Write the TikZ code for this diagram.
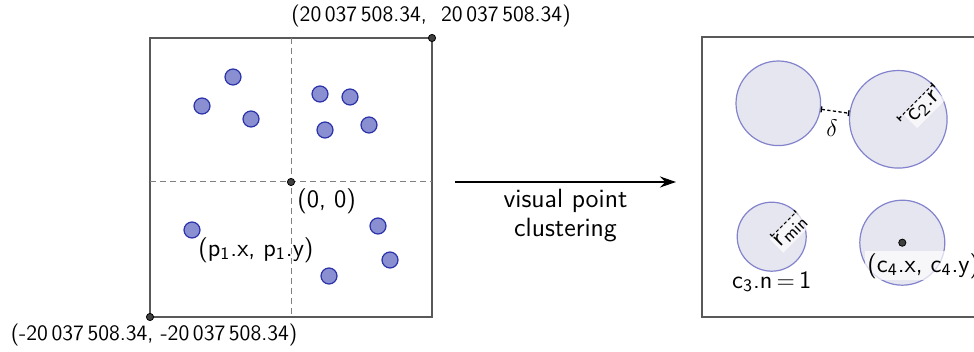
\documentclass[tikz,border=0pt]{standalone}
\usetikzlibrary{arrows.meta,calc}
\definecolor{ptfill}{RGB}{138,143,210}
\definecolor{ptedge}{RGB}{42,50,170}
\definecolor{clfill}{RGB}{230,230,240}
\definecolor{cledge}{RGB}{130,130,205}
\begin{document}
\begin{tikzpicture}[x=0.5pt,y=-0.5pt,font=\sffamily\fontsize{12.5}{14}\selectfont]
\tikzset{
  frame/.style={draw=black!65,line width=0.6pt},
  quad/.style={draw=black!50,line width=0.5pt,dash pattern=on 3pt off 2pt},
  pt/.style={circle,draw=ptedge,fill=ptfill,line width=0.6pt,minimum size=8pt,inner sep=0pt},
  dot/.style={circle,fill=black!75,draw=black,line width=0.4pt,minimum size=3.6pt,inner sep=0pt},
  cluster/.style={circle,draw=cledge,fill=clfill,line width=0.6pt,inner sep=0pt},
  measure/.style={line width=0.65pt,dash pattern=on 1.6pt off 1.2pt,{Bar[width=3pt]}-{Bar[width=3pt]}},
  coordlbl/.style={font=\sffamily\fontsize{11}{13}\selectfont,inner sep=1pt},
  haze/.style={fill=white,fill opacity=0.7,text opacity=1,inner sep=1pt}
}
\useasboundingbox (0,0) rectangle (974,352);

% ---- left panel: map extent with quadrants ----
\draw[frame] (150,38) rectangle (432,317);
\coordinate (qt) at (291,38);
\coordinate (qb) at (291,317);
\coordinate (ql) at (150,182);
\coordinate (qr) at (432,182);
\draw[quad] (qt) -- (qb);
\draw[quad] (ql) -- (qr);

\node[dot] (ne) at (432,38) {};
\node[dot] (sw) at (150,317) {};
\node[dot] (org) at (291,182) {};

\node[coordlbl,anchor=south] (nelbl) at (431,29) {(20\,037\,508.34, \ 20\,037\,508.34)};
\node[coordlbl,anchor=north] (swlbl) at (154,322) {(-20\,037\,508.34, -20\,037\,508.34)};
\node[anchor=north west,inner sep=1pt] (orglbl) at (295,186) {(0, 0)};

% points
\node[pt] (p1) at (192,230) {};
\node[pt] (p2) at (233,77) {};
\node[pt] (p3) at (202,106) {};
\node[pt] (p4) at (251,119) {};
\node[pt] (p5) at (320,94) {};
\node[pt] (p6) at (350,97) {};
\node[pt] (p7) at (325,130) {};
\node[pt] (p8) at (369,125) {};
\node[pt] (p9) at (378,226) {};
\node[pt] (p10) at (390,260) {};
\node[pt] (p11) at (329,276) {};
\node[anchor=north west,inner sep=1pt] (p1lbl) at (196,235) {(p\textsubscript{1}.x, p\textsubscript{1}.y)};

% ---- transition arrow ----
\coordinate (arrS) at (455,182);
\coordinate (arrE) at (676,182);
\draw[line width=0.7pt,-{Stealth[length=8pt,width=5.5pt]}] (arrS) -- (arrE)
  node[midway,below=2pt,align=center,inner sep=1pt,font=\sffamily\fontsize{13.2}{14.5}\selectfont] (arrlbl) {visual point\\clustering};

% ---- right panel: clusters ----
\draw[frame] (702,37) rectangle (1000,317);
\node[cluster,minimum size=42.3pt] (c1) at (778.3,103.3) {};
\node[cluster,minimum size=48.8pt] (c2) at (898.3,119.3) {};
\node[cluster,minimum size=34.5pt] (c3) at (771.7,236.7) {};
\node[cluster,minimum size=42.5pt] (c4) at (902.3,242.7) {};

% gap between clusters
\draw[measure] (c1.-8) -- (c2.173);
\node[inner sep=1pt] (dlt) at (832,128) {$\delta$};

% radius of c2
\draw[measure] (c2.center) -- (c2.45);
\node[haze,rotate=45,anchor=north] (c2r) at ($(c2.center)!0.55!(c2.45)$) {c\textsubscript{2}.r};

% minimum radius
\draw[measure] (c3.center) -- (c3.45);
\node[haze,rotate=45,anchor=north] (rmin) at ($(c3.center)!0.5!(c3.45)$) {r\textsubscript{min}};

\node[inner sep=1pt] (c3n) at (771.7,281.7) {c\textsubscript{3}.n\,$=$\,1};

% centre of c4
\node[dot] (c4dot) at (c4.center) {};
\node[haze,anchor=north west] (c4lbl) at (865,251) {(c\textsubscript{4}.x, c\textsubscript{4}.y)};
\end{tikzpicture}
\end{document}
